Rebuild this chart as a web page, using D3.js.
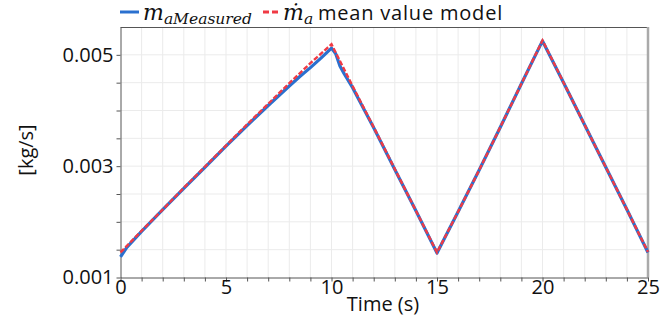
<!DOCTYPE html>
<meta charset="utf-8">
<style>

body { margin: 0; background: #fff; }

.grid line {
  stroke: #ebebeb;
  stroke-width: 1px;
}

.axis text {
  font-family: "Open Sans", sans-serif;
  font-size: 20px;
  fill: #111;
}

.axis path, .axis line {
  stroke: #555;
}

.label {
  font-family: "Open Sans", sans-serif;
  font-size: 20px;
  fill: #111;
}

.math {
  font-family: "DejaVu Serif", serif;
  font-style: italic;
  fill: #111;
}

</style>
<svg width="672" height="326"></svg>
<script src="https://d3js.org/d3.v7.min.js"></script>
<script>

// Data
var time = [0, 1, 2, 3, 4, 5, 6, 7, 8, 9, 10, 11, 12, 13, 14, 15, 16, 17, 18, 19, 20, 21, 22, 23, 24, 25];
var modelFlow = [0.00145, 0.00184, 0.00222, 0.00261, 0.00299, 0.00337, 0.00375, 0.00412, 0.00449, 0.00485, 0.00519,
                 0.00444, 0.00370, 0.00295, 0.00220, 0.00145,
                 0.00218, 0.00293, 0.00370, 0.00448, 0.00526,
                 0.00450, 0.00374, 0.00298, 0.00222, 0.00146];

var measuredTime = [0, 0.3, 1, 2, 3, 4, 5, 6, 7, 8, 8.5, 9, 9.5, 10, 10.2, 10.4, 10.6, 11, 12, 13, 14, 15, 16, 17, 18, 19, 20, 21, 22, 23, 24, 25];
var measuredFlow = [0.00137, 0.00154, 0.00183, 0.00222, 0.00260, 0.00298, 0.00336, 0.00373, 0.00409, 0.00444, 0.00461, 0.00477, 0.00494, 0.00512,
                    0.00502, 0.00480, 0.00466, 0.00441, 0.00369, 0.00294, 0.00220, 0.00144,
                    0.00218, 0.00293, 0.00370, 0.00448, 0.00525,
                    0.00450, 0.00374, 0.00298, 0.00222, 0.00145];

var xTicks = [0, 5, 10, 15, 20, 25];
var yTicks = [0.001, 0.003, 0.005];

// Plot box (plotTop, not top: window.top is read-only)
var svg = d3.select("svg"),
    plotLeft = 120.5, plotRight = 648, plotTop = 27, plotBottom = 277.5;

var x = d3.scaleLinear().domain([0, 25]).range([plotLeft, plotRight]);
var y = d3.scaleLinear().domain([0.001, 0.0055]).range([plotBottom, plotTop]);

// Grid
var grid = svg.append("g").attr("class", "grid");
grid.selectAll(".v")
    .data(d3.range(1, 25))
    .enter().append("line")
    .attr("x1", function(d) { return x(d); })
    .attr("x2", function(d) { return x(d); })
    .attr("y1", plotTop)
    .attr("y2", plotBottom);
grid.selectAll(".h")
    .data(d3.range(0.0015, 0.0054, 0.0005))
    .enter().append("line")
    .attr("x1", plotLeft)
    .attr("x2", plotRight)
    .attr("y1", function(d) { return y(d); })
    .attr("y2", function(d) { return y(d); });

// Frame: dark top, grey right
svg.append("line")
    .attr("x1", plotLeft).attr("x2", plotRight)
    .attr("y1", plotTop + 0.5).attr("y2", plotTop + 0.5)
    .attr("stroke", "#555");
svg.append("line")
    .attr("x1", plotRight).attr("x2", plotRight)
    .attr("y1", plotTop).attr("y2", plotBottom)
    .attr("stroke", "#aaa")
    .attr("stroke-width", 2.5);

// Axes
var xAxis = svg.append("g")
    .attr("class", "axis")
    .attr("transform", "translate(0," + plotBottom + ")")
    .call(d3.axisBottom(x).tickValues(d3.range(0, 26)).tickSize(4).tickSizeOuter(0)
      .tickFormat(function(d) { return xTicks.indexOf(d) >= 0 ? d : ""; }));
xAxis.selectAll("text").attr("y", 2);

var yAxis = svg.append("g")
    .attr("class", "axis")
    .attr("transform", "translate(" + plotLeft + ",0)")
    .call(d3.axisLeft(y).tickValues(d3.range(0.001, 0.0052, 0.0005)).tickSize(4).tickSizeOuter(0)
      .tickFormat(function(d) {
        var hit = yTicks.some(function(t) { return Math.abs(t - d) < 1e-9; });
        return hit ? d3.format(".3f")(d) : "";
      }));
yAxis.selectAll("text").attr("x", -7);

svg.append("text")
    .attr("class", "label")
    .attr("x", 383)
    .attr("y", 311)
    .attr("text-anchor", "middle")
    .text("Time (s)");

svg.append("text")
    .attr("class", "label")
    .attr("transform", "translate(33,150) rotate(-90)")
    .attr("text-anchor", "middle")
    .text("[kg/s]");

// Lines
var measuredLine = d3.line()
    .x(function(d, i) { return x(measuredTime[i]); })
    .y(function(d) { return y(d); });
var modelLine = d3.line()
    .x(function(d, i) { return x(time[i]); })
    .y(function(d) { return y(d); });

svg.append("path")
    .datum(measuredFlow)
    .attr("fill", "none")
    .attr("stroke", "#2a70cf")
    .attr("stroke-width", 3.2)
    .attr("stroke-linejoin", "round")
    .attr("d", measuredLine);

svg.append("path")
    .datum(modelFlow)
    .attr("fill", "none")
    .attr("stroke", "#f03a44")
    .attr("stroke-width", 2.4)
    .attr("stroke-dasharray", "5,2")
    .attr("d", modelLine);

// Legend
var legend = svg.append("g");
legend.append("line")
    .attr("x1", 120).attr("x2", 139).attr("y1", 12).attr("y2", 12)
    .attr("stroke", "#2a70cf").attr("stroke-width", 3);
var t1 = legend.append("text").attr("class", "math").attr("x", 143).attr("y", 20);
t1.append("tspan").attr("font-size", 22).text("m");
t1.append("tspan").attr("font-size", 15.5).attr("dy", 4).text("aMeasured");

legend.append("line")
    .attr("x1", 263).attr("x2", 280).attr("y1", 12).attr("y2", 12)
    .attr("stroke", "#f03a44").attr("stroke-width", 3)
    .attr("stroke-dasharray", "6,3");
var t2 = legend.append("text").attr("class", "math").attr("x", 283).attr("y", 20);
t2.append("tspan").attr("font-size", 22).text("\u1e41");
t2.append("tspan").attr("font-size", 15.5).attr("dy", 4).text("a");
legend.append("text")
    .attr("class", "label")
    .attr("x", 318)
    .attr("y", 20)
    .attr("font-size", 23)
    .attr("letter-spacing", 0.8)
    .text("mean value model");

</script>
